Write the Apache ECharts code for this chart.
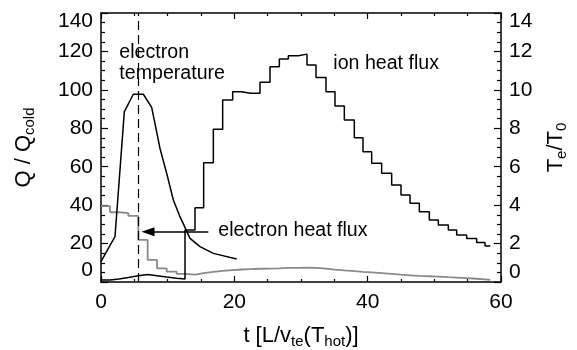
<!DOCTYPE html>
<html>
<head>
<meta charset="utf-8">
<script src="https://cdn.jsdelivr.net/npm/echarts@6/dist/echarts.min.js"></script>
<style>html,body{margin:0;padding:0;background:#fff}#c{width:577px;height:350px}</style>
</head>
<body>
<div id="c"></div>
<script>
// ---- data ----
const tEdges = [0, 1.35, 2.7, 4.1, 5.6, 7.0, 8.4, 9.85, 11.35,
  12.6, 14.1, 15.4, 16.85, 18.25, 19.75, 21.1, 22.4, 23.85, 25.35, 26.75, 28.1, 29.6,
  30.9, 32.25, 33.75, 35.1, 36.5, 38.0, 39.3, 40.6, 42.1, 43.6,
  45.0, 46.35, 47.75, 49.25, 50.6, 52.1, 53.35, 54.85, 56.35, 57.6];
const tEnd = 58.4;
const ionFlux = [1.0, 1.6, 2.3, 3.3, 3.9, 3.3, 2.6, 1.9, 1.6,
  27, 38.7, 62, 79.5, 94.7, 99, 98.2, 98.2, 104, 112, 116, 117.8, 118.6,
  113, 106.4, 99, 91.6, 84.3, 75.1, 67.8, 61.8, 56.6, 50.5,
  45.3, 41, 36.6, 32.3, 29.7, 27.1, 24.5, 22.7, 20.5, 18.7];
const electronFlux = [39.5, 36.3, 35.8, 34.4, 21.9, 11.5, 7.1, 5.4, 4.2,
  3.8, 4.6, 5.3, 5.8, 6.2, 6.5, 6.7, 6.9, 7.0, 7.1, 7.3, 7.4, 7.5,
  7.3, 7.0, 6.4, 6.0, 5.7, 5.3, 5.0, 4.6, 4.2, 3.8,
  3.5, 3.2, 3.0, 2.8, 2.5, 2.3, 2.0, 1.7, 1.4, 1.1];
const tTemp = [0, 1.1, 2.1, 3.5, 4.85, 6.35, 7.6, 8.85, 9.85, 10.85, 11.85, 13.35, 14.85, 16.85, 20.35];
const electronTemp = [1.06, 1.75, 2.36, 8.87, 9.77, 9.77, 9.09, 6.95, 5.66, 4.27, 3.4, 2.27, 1.84, 1.49, 1.2];
const dashT = 5.6;
const arrowFrom = [16.1, 26.2], arrowTo = [7.05, 26.2];
const xTicks = {min: 0, max: 60, interval: 20};
const qTicks = {min: 0, max: 140, interval: 20};
const teTicks = {min: 0, max: 14, interval: 2};

// ---- build ----
function steps(edges, vals, end) {
  const d = edges.map((t, i) => [t, vals[i]]);
  d.push([end, vals[vals.length - 1]]);
  return d;
}
const FONT = 'Liberation Sans, Arial, Helvetica, sans-serif';
const FS = 19.6;     // annotations
const FT = 21;       // tick labels
const FN = 22;       // axis titles
const sub = {fontSize: 15, lineHeight: 15, verticalAlign: 'bottom', fontFamily: FONT, color: '#000'};
const lab = {fontSize: FT, fontFamily: FONT, color: '#000'};

function xAx(pos, show) {
  return {type: 'value', position: pos, min: xTicks.min, max: xTicks.max, interval: xTicks.interval,
    axisLine: {show: true, onZero: false, lineStyle: {color: '#000', width: 1.5}},
    axisTick: {show: true, inside: true, length: 6, lineStyle: {color: '#000', width: 1.2}},
    minorTick: {show: true, splitNumber: 4, length: 3, lineStyle: {color: '#000', width: 1.2}},
    splitLine: {show: false},
    axisLabel: {show: show, color: '#000', fontSize: FT, fontFamily: FONT, margin: 10},
    name: show ? 't [L/v{sub|te}(T{sub|hot})]' : '', nameLocation: 'middle', nameGap: 41,
    nameTextStyle: {color: '#000', fontSize: FN, fontFamily: FONT, lineHeight: 26, rich: {sub: sub}}
  };
}
function yAx(pos, t, name, gap, botPad) {
  return {type: 'value', position: pos, min: t.min, max: t.max, interval: t.interval,
    axisLine: {show: true, onZero: false, lineStyle: {color: '#000', width: 1.5}},
    axisTick: {show: true, inside: true, length: 7, lineStyle: {color: '#000', width: 1.2}},
    minorTick: {show: true, splitNumber: 4, length: 4, lineStyle: {color: '#000', width: 1.2}},
    splitLine: {show: false},
    axisLabel: {color: '#000', fontSize: FT, fontFamily: FONT, margin: 8,
      formatter: v => v === t.max ? '{top|' + v + '}' : (v === t.min ? '{bot|' + v + '}' : '{n|' + v + '}'),
      rich: {n: lab, top: Object.assign({padding: [16, 0, 0, 0]}, lab), bot: Object.assign({padding: [0, 0, botPad, 0]}, lab)}},
    name: name, nameLocation: 'middle', nameGap: gap, nameRotate: 90,
    nameTextStyle: {color: '#000', fontSize: FN, fontFamily: FONT, lineHeight: 26, rich: {sub: sub}}
  };
}

const chart = echarts.init(document.getElementById('c'), null, {renderer: 'canvas'});
chart.setOption({
  animation: false,
  backgroundColor: '#fff',
  grid: {left: 101, right: 76, top: 13, bottom: 68, containLabel: false, outerBoundsMode: 'none'},
  xAxis: [xAx('bottom', true), xAx('top', false)],
  yAxis: [yAx('left', qTicks, 'Q / Q{sub|cold}', 64, 24), yAx('right', teTicks, 'T{sub|e}/T{sub|0}', 40, 20)],
  series: [
    {type: 'line', name: 'electron heat flux', step: 'end', showSymbol: false, symbol: 'none',
     data: steps(tEdges, electronFlux, tEnd), lineStyle: {color: '#8a8a8a', width: 1.8},
     markLine: {silent: true, symbol: 'none', label: {show: false},
       lineStyle: {color: '#000', width: 1.2, type: [9, 5]},
       data: [{xAxis: dashT}]}},
    {type: 'line', name: 'ion heat flux', step: 'end', showSymbol: false, symbol: 'none',
     data: steps(tEdges, ionFlux, tEnd), lineStyle: {color: '#000', width: 1.5},
     markLine: {silent: true, symbol: ['none', 'triangle'], symbolSize: [9, 13], label: {show: false},
       lineStyle: {color: '#000', width: 1.5, type: 'solid'},
       data: [[{coord: arrowFrom}, {coord: arrowTo}]]}},
    {type: 'line', name: 'electron temperature', yAxisIndex: 1, showSymbol: false, symbol: 'none',
     data: tTemp.map((t, i) => [t, electronTemp[i]]), lineStyle: {color: '#000', width: 1.5}}
  ]
});

// annotation text anchored in data units
const notes = [
  {text: 'electron', at: [2.75, 119.6]},
  {text: 'temperature', at: [2.75, 108.6]},
  {text: 'ion heat flux', at: [34.85, 113.8]},
  {text: 'electron heat flux', at: [17.6, 26.8]}
];
chart.setOption({graphic: notes.map(n => {
  const p = chart.convertToPixel({xAxisIndex: 0, yAxisIndex: 0}, n.at);
  return {type: 'text', x: p[0], y: p[1], style: {text: n.text, fontSize: FS, fontFamily: FONT,
    fill: '#000', align: 'left', verticalAlign: 'middle'}};
})});
</script>
</body>
</html>
